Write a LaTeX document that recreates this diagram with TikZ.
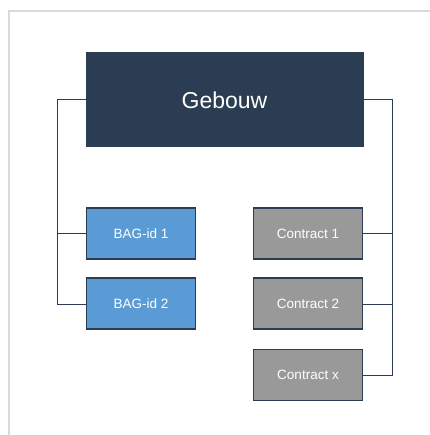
\documentclass[tikz,border=0pt]{standalone}
\usepackage{fontspec}
\setmainfont{Liberation Sans}
\definecolor{navyc}{HTML}{2B3D52}
\definecolor{bagblue}{HTML}{5B9BD5}
\definecolor{cgray}{HTML}{999999}
\definecolor{framec}{HTML}{DADADA}
\begin{document}
\begin{tikzpicture}[x=1pt,y=1pt,
  boxbase/.style={draw=navyc,line width=1.2pt,minimum width=109pt,minimum height=51pt,inner sep=0pt,text=white,font=\fontsize{13.5pt}{15pt}\selectfont},
  bagbox/.style={boxbase,fill=bagblue},
  conbox/.style={boxbase,fill=cgray},
  linkline/.style={draw=navyc,line width=1pt}]
\useasboundingbox (0,0) rectangle (429,-435);
\draw[framec,line width=1.5pt] (9,-436) -- (9,-11) -- (430,-11);
\coordinate (lt) at (57,-100);
\coordinate (rt) at (392.5,-100);
\coordinate (la) at (57,-233);
\coordinate (lb) at (57,-304);
\coordinate (ra) at (392.5,-233);
\coordinate (rb) at (392.5,-304);
\coordinate (rc) at (392.5,-375);
\node[draw=navyc,fill=navyc,line width=1pt,minimum width=277pt,minimum height=94pt,inner sep=0pt,text=white,font=\fontsize{23pt}{26pt}\selectfont] (g) at (224.5,-100) {Gebouw};
\node[bagbox] (b1) at (141,-233.5) {BAG-id 1};
\node[bagbox] (b2) at (141,-303.5) {BAG-id 2};
\node[conbox] (c1) at (308,-233.5) {Contract 1};
\node[conbox] (c2) at (308,-303.5) {Contract 2};
\node[conbox] (c3) at (308,-375) {Contract x};
\draw[linkline] (g.west |- lt) -- (lt) -- (lb) -- (b2.west |- lb);
\draw[linkline] (la) -- (b1.west |- la);
\draw[linkline] (g.east |- rt) -- (rt) -- (rc) -- (c3.east |- rc);
\draw[linkline] (ra) -- (c1.east |- ra);
\draw[linkline] (rb) -- (c2.east |- rb);
\end{tikzpicture}
\end{document}
